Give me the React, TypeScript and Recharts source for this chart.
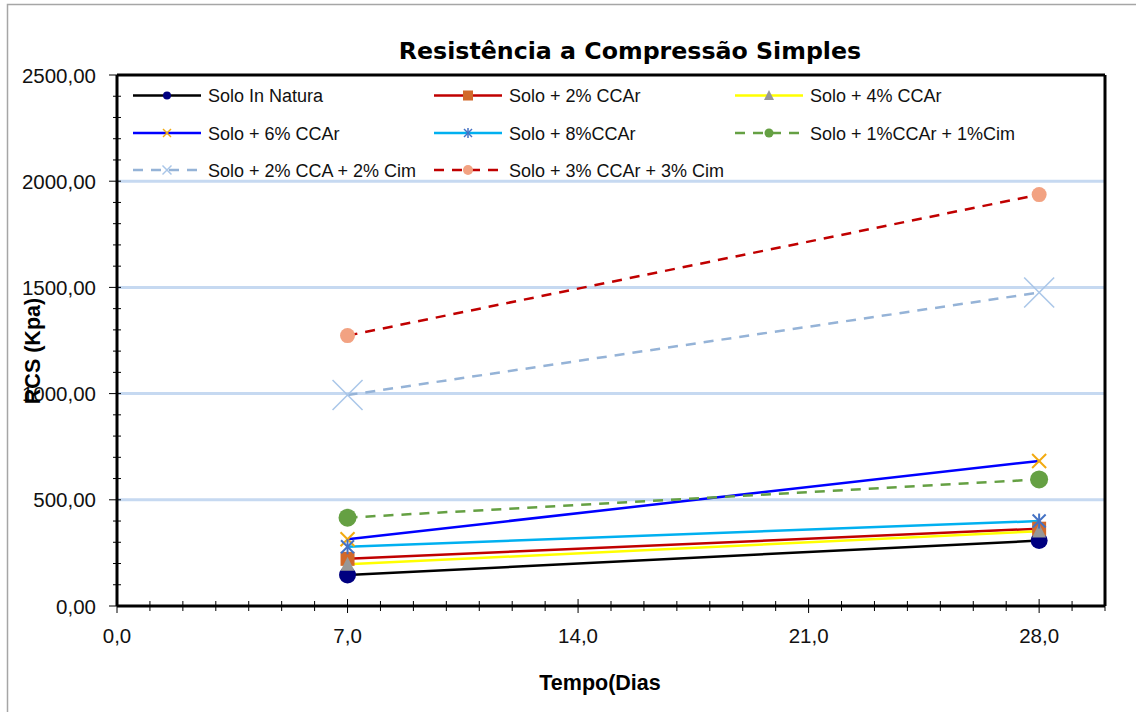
import React from 'react';
import { LineChart, Line, XAxis, YAxis, CartesianGrid, ReferenceLine } from 'recharts';

// ---- data ----
const days = [7, 28];
const soloNatura = [146, 308];
const solo2CCAr = [222, 364];
const solo4CCAr = [196, 352];
const solo6CCAr = [314, 683];
const solo8CCAr = [279, 400];
const solo1CCAr1Cim = [416, 596];
const solo2CCA2Cim = [993, 1476];
const solo3CCAr3Cim = [1273, 1937];

const seriesNames = [
  'Solo In Natura',
  'Solo + 2% CCAr',
  'Solo + 4% CCAr',
  'Solo + 6% CCAr',
  'Solo + 8%CCAr',
  'Solo + 1%CCAr + 1%Cim',
  'Solo + 2% CCA + 2% Cim',
  'Solo + 3% CCAr + 3% Cim',
];

const xMax = 30;
const yMax = 2500;
const xMajorTicks = [0, 7, 14, 21, 28];
const xMinorTicks = [0, 1, 2, 3, 4, 5, 6, 7, 8, 9, 10, 11, 12, 13, 14, 15, 16, 17, 18, 19, 20, 21, 22, 23, 24, 25, 26, 27, 28, 29, 30];
const yMajorTicks = [0, 500, 1000, 1500, 2000, 2500];
const yMinorTicks = [0, 100, 200, 300, 400, 500, 600, 700, 800, 900, 1000, 1100, 1200, 1300, 1400, 1500, 1600, 1700, 1800, 1900, 2000, 2100, 2200, 2300, 2400, 2500];
const yGridValues = [500, 1000, 1500, 2000];

const title = 'Resistência a Compressão Simples';
const xTitle = 'Tempo(Dias';
const yTitle = 'RCS (Kpa)';

type Kind = 'circle' | 'square' | 'triangle' | 'x' | 'star';

interface SeriesCfg {
  key: string;
  name: string;
  values: number[];
  stroke: string;
  dash?: string;
  kind: Kind;
  markerColor: string;
  size: number;
  legendSize: number;
  markerStroke: number;
}

const series: SeriesCfg[] = [
  { key: 's0', name: seriesNames[0], values: soloNatura, stroke: '#000000', kind: 'circle', markerColor: '#000080', size: 17, legendSize: 8, markerStroke: 1 },
  { key: 's1', name: seriesNames[1], values: solo2CCAr, stroke: '#C00000', kind: 'square', markerColor: '#D2692A', size: 14, legendSize: 10, markerStroke: 1 },
  { key: 's2', name: seriesNames[2], values: solo4CCAr, stroke: '#FFFF00', kind: 'triangle', markerColor: '#979797', size: 14, legendSize: 10, markerStroke: 1 },
  { key: 's3', name: seriesNames[3], values: solo6CCAr, stroke: '#0000FF', kind: 'x', markerColor: '#F2AA10', size: 14, legendSize: 8, markerStroke: 2 },
  { key: 's4', name: seriesNames[4], values: solo8CCAr, stroke: '#00B0F0', kind: 'star', markerColor: '#4472C4', size: 13, legendSize: 8, markerStroke: 2 },
  { key: 's5', name: seriesNames[5], values: solo1CCAr1Cim, stroke: '#65A043', dash: '10 8', kind: 'circle', markerColor: '#65A043', size: 18, legendSize: 9, markerStroke: 1 },
  { key: 's6', name: seriesNames[6], values: solo2CCA2Cim, stroke: '#95B3D7', dash: '10 8', kind: 'x', markerColor: '#A9C6E8', size: 30, legendSize: 9, markerStroke: 1.5 },
  { key: 's7', name: seriesNames[7], values: solo3CCAr3Cim, stroke: '#C00000', dash: '10 8', kind: 'circle', markerColor: '#F2A282', size: 15, legendSize: 10, markerStroke: 1 },
];

const data = days.map((d, i) => {
  const row: Record<string, number> = { dia: d };
  series.forEach((s) => {
    row[s.key] = s.values[i];
  });
  return row;
});

function Marker({ kind, cx, cy, size, color, sw }: { kind: Kind; cx: number; cy: number; size: number; color: string; sw: number }) {
  const h = size / 2;
  switch (kind) {
    case 'circle':
      return <circle cx={cx} cy={cy} r={h} fill={color} />;
    case 'square':
      return <rect x={cx - h} y={cy - h} width={size} height={size} fill={color} />;
    case 'triangle':
      return <polygon points={`${cx},${cy - size * 0.55} ${cx - h},${cy + size * 0.45} ${cx + h},${cy + size * 0.45}`} fill={color} />;
    case 'x':
      return (
        <g stroke={color} strokeWidth={sw}>
          <line x1={cx - h} y1={cy - h} x2={cx + h} y2={cy + h} />
          <line x1={cx - h} y1={cy + h} x2={cx + h} y2={cy - h} />
        </g>
      );
    case 'star':
      return (
        <g stroke={color} strokeWidth={sw}>
          <line x1={cx - h} y1={cy - h} x2={cx + h} y2={cy + h} />
          <line x1={cx - h} y1={cy + h} x2={cx + h} y2={cy - h} />
          <line x1={cx} y1={cy - h - 1} x2={cx} y2={cy + h + 1} />
        </g>
      );
  }
  return null;
}

const TICK_FONT = "'Liberation Sans', Arial, sans-serif";

const XTick = (props: any) => {
  const { x, y, payload } = props;
  const v = payload.value as number;
  const major = xMajorTicks.includes(v);
  const len = major ? 7 : 5;
  return (
    <g>
      <line x1={x} x2={x} y1={y - len} y2={y + len} stroke="#000" strokeWidth={1} />
      {major && (
        <text x={x} y={y + 37} textAnchor="middle" fontFamily={TICK_FONT} fontSize={20.5} fill="#111">
          {v.toFixed(1).replace('.', ',')}
        </text>
      )}
    </g>
  );
};

const YTick = (props: any) => {
  const { x, y, payload } = props;
  const v = payload.value as number;
  const major = yMajorTicks.includes(v);
  return (
    <g>
      <line x1={x - (major ? 8 : 4)} x2={x + 4} y1={y} y2={y} stroke="#000" strokeWidth={1} />
      {major && (
        <text x={x - 21} y={y + 7.5} textAnchor="end" fontFamily={TICK_FONT} fontSize={20.5} fill="#111">
          {v.toFixed(2).replace('.', ',')}
        </text>
      )}
    </g>
  );
};

const legendCols = [133, 434, 735];
const legendRows = [95.5, 133, 170];

export default function App() {
  return (
    <div style={{ position: 'absolute', left: 0, top: 0, width: 1136, height: 712, overflow: 'hidden', background: '#fff' }}>
      <LineChart width={1136} height={712} data={data} margin={{ top: 75, right: 31, left: 0, bottom: 0 }}>
        <CartesianGrid vertical={false} horizontalValues={yGridValues} stroke="#C6D9F1" strokeWidth={3} />
        <XAxis
          dataKey="dia"
          type="number"
          domain={[0, xMax]}
          ticks={xMinorTicks}
          interval={0}
          tick={<XTick />}
          tickLine={false}
          tickSize={0}
          tickMargin={0}
          height={106}
          axisLine={{ stroke: '#000', strokeWidth: 3 }}
          allowDataOverflow
        />
        <YAxis
          type="number"
          domain={[0, yMax]}
          ticks={yMinorTicks}
          interval={0}
          tick={<YTick />}
          tickLine={false}
          tickSize={0}
          tickMargin={0}
          width={117}
          axisLine={{ stroke: '#000', strokeWidth: 3 }}
          allowDataOverflow
        />
        <ReferenceLine y={yMax} stroke="#000" strokeWidth={3} ifOverflow="visible" />
        <ReferenceLine x={xMax} stroke="#000" strokeWidth={3} ifOverflow="visible" />
        {series.map((s) => (
          <Line
            key={s.key}
            type="linear"
            dataKey={s.key}
            name={s.name}
            stroke={s.stroke}
            strokeWidth={2.5}
            strokeDasharray={s.dash}
            isAnimationActive={false}
            activeDot={false}
            dot={(p: any) => (
              <Marker key={`${s.key}-${p.index}`} kind={s.kind} cx={p.cx} cy={p.cy} size={s.size} color={s.markerColor} sw={s.markerStroke} />
            )}
          />
        ))}
      </LineChart>
      <svg width={1136} height={712} style={{ position: 'absolute', left: 0, top: 0, pointerEvents: 'none' }}>
        <rect x={7.5} y={4.5} width={1200} height={800} fill="none" stroke="#A6A6A6" strokeWidth={1.5} />
        <text x={630} y={59} textAnchor="middle" fontFamily="'DejaVu Sans', Verdana, sans-serif" fontWeight="bold" fontSize={23.7} fill="#000">
          {title}
        </text>
        <text x={600} y={690} textAnchor="middle" fontFamily="'Liberation Sans', Arial, sans-serif" fontWeight="bold" fontSize={21.5} fill="#000">
          {xTitle}
        </text>
        <text
          transform="translate(40,351) rotate(-90)"
          x={0}
          y={0}
          textAnchor="middle"
          fontFamily="'Liberation Sans', Arial, sans-serif"
          fontWeight="bold"
          fontSize={21.5}
          fill="#000"
        >
          {yTitle}
        </text>
        {series.map((s, i) => {
          const cx = legendCols[i % 3];
          const cy = legendRows[Math.floor(i / 3)];
          return (
            <g key={s.key}>
              <line x1={cx} x2={cx + 68} y1={cy} y2={cy} stroke={s.stroke} strokeWidth={2.5} strokeDasharray={s.dash} />
              <Marker kind={s.kind} cx={cx + 34} cy={cy} size={s.legendSize} color={s.markerColor} sw={s.kind === 'x' || s.kind === 'star' ? 1.5 : 1} />
              <text x={cx + 75} y={cy + 6.5} fontFamily={TICK_FONT} fontSize={18} fill="#111">
                {s.name}
              </text>
            </g>
          );
        })}
      </svg>
    </div>
  );
}
